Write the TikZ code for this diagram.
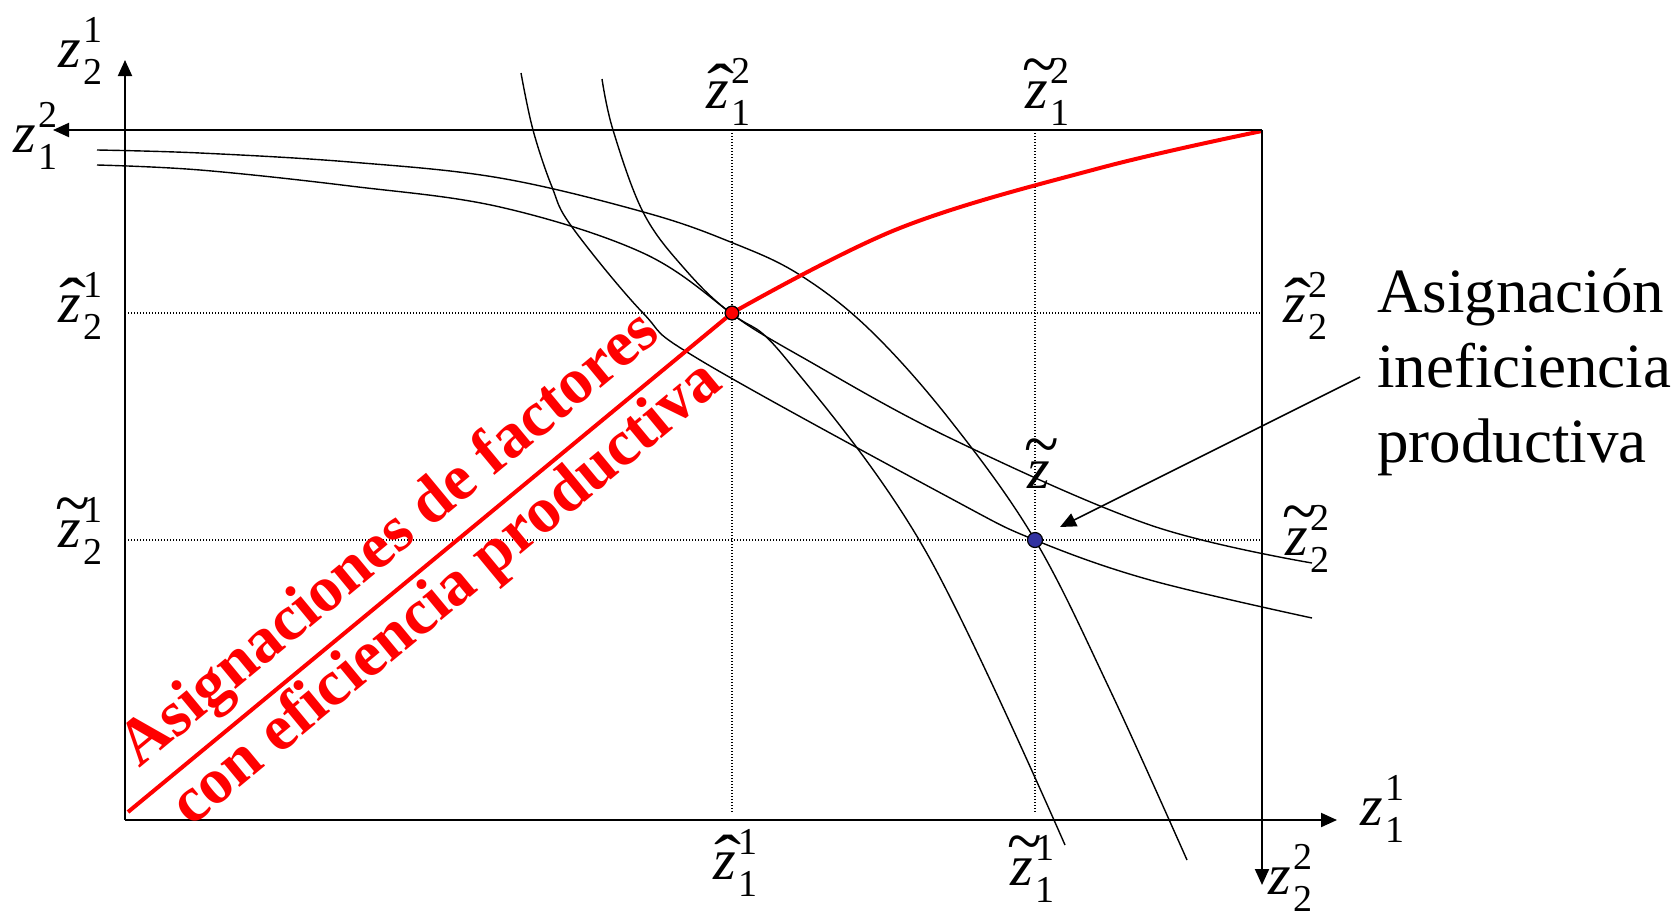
\documentclass[tikz,border=0pt]{standalone}
\usepackage{graphicx}
\usepackage{fontspec}
\setmainfont{Liberation Serif}
\usetikzlibrary{arrows.meta}
\newcommand\zfont{\fontsize{29}{29}\selectfont}
\newcommand\scrfont{\fontsize{19}{19}\selectfont}
\newcommand\zplain{{\itshape z}}
\newcommand\zhat{\ooalign{\itshape z\cr\hidewidth\kern0.12em\scalebox{1.4}[1.1]{ˆ}\hidewidth\cr}}
\newcommand\ztil{\ooalign{\itshape z\cr\hidewidth\kern0.1em\raisebox{0.36em}{\scalebox{1.1}[1.2]{\textasciitilde}}\hidewidth\cr}}
\newcommand\zlab[3]{\mbox{\zfont#1\kern0.05em\makebox[0pt][l]{\raisebox{0.42em}{\scrfont #3}}\raisebox{-0.3em}{\scrfont #2}}}
\begin{document}
\begin{tikzpicture}[x=0.5pt,y=-0.5pt,
  axis/.style={line width=1pt,-{Triangle[length=8pt,width=7pt]}},
  curve/.style={line width=0.7pt},
  dotline/.style={line width=0.6pt,dash pattern=on 0.6pt off 0.9pt},
  contract/.style={line width=2pt,red},
  lab/.style={inner sep=0pt,anchor=base west},
  txt/.style={inner sep=0pt,anchor=base west,font=\fontsize{31.5}{36}\selectfont},
  redtxt/.style={inner sep=0pt,anchor=base,text=red,font=\fontsize{32.5}{37}\selectfont\bfseries,rotate=39.6},
  ptnode/.style={circle,draw=black,line width=0.6pt,inner sep=0pt,minimum size=7pt}]
\fill[white] (0,0) rectangle (1679,916);
\useasboundingbox (0,0) rectangle (1679,916);
% key coordinates
\coordinate (O) at (125,820);
\coordinate (O2) at (1262,130);
\coordinate (yt) at (125,60);
\coordinate (xt) at (1337,820);
\coordinate (lt) at (53,130);
\coordinate (bt) at (1262,885);
% dotted guides
\coordinate (h1t) at (732,130); \coordinate (h1b) at (732,812);
\coordinate (t1t) at (1035,130); \coordinate (t1b) at (1035,812);
\coordinate (h2l) at (125,313); \coordinate (h2r) at (1262,313);
\coordinate (t2l) at (125,540); \coordinate (t2r) at (1262,540);
\draw[dotline] (h1t) -- (h1b);
\draw[dotline] (t1t) -- (t1b);
\draw[dotline] (h2l) -- (h2r);
\draw[dotline] (t2l) -- (t2r);
% isoquants
\draw[curve] plot[smooth,tension=0.6] coordinates {(97,150) (200,153) (350,162) (500,178) (647,213) (733,243) (800,275) (870,330) (950,420) (1035,540) (1110,690) (1187,860)};
\draw[curve] plot[smooth,tension=0.6] coordinates {(97,165) (200,170) (350,186) (500,207) (643,253) (732,314) (787,360) (925,550) (1065,845)};
\draw[curve] plot[smooth,tension=0.6] coordinates {(521,73) (533,130) (552,187) (572,227) (643,313) (700,360) (950,498) (1035,540) (1150,580) (1312,618)};
\draw[curve] plot[smooth,tension=0.6] coordinates {(602,79) (613,130) (643,212) (683,267) (732,314) (807,360) (950,438) (1150,525) (1312,563)};
% points
\node[ptnode,fill=red,minimum size=6.8pt] (ph) at (732,313) {};
\node[ptnode,fill={rgb,255:red,50;green,50;blue,160},minimum size=7.5pt] (pt) at (1035,540) {};
% contract curve
\coordinate (cs) at (128,812);
\draw[contract] (cs) -- (ph.center) plot[smooth,tension=0.6] coordinates {(732,313) (900,228) (1100,168) (1262,131)};
\node[ptnode,fill=red,minimum size=6.8pt] at (ph) {};
% axes and box
\draw[axis] (O) -- (yt);
\draw[axis] (O) -- (xt);
\draw[axis] (O2) -- (lt);
\draw[axis] (O2) -- (bt);
% axis labels
\node[lab] (l21) at (58,67) {\zlab{\zplain}{2}{1}};
\node[lab] (l12) at (13,152) {\zlab{\zplain}{1}{2}};
\node[lab] (l11) at (1360,825) {\zlab{\zplain}{1}{1}};
\node[lab] (l22) at (1268,894) {\zlab{\zplain}{2}{2}};
\node[lab] (h12) at (706,108) {\zlab{\zhat}{1}{2}};
\node[lab] (t12) at (1025,108) {\zlab{\ztil}{1}{2}};
\node[lab] (h21) at (58,322) {\zlab{\zhat}{2}{1}};
\node[lab] (t21) at (58,547) {\zlab{\ztil}{2}{1}};
\node[lab] (h22) at (1283,322) {\zlab{\zhat}{2}{2}};
\node[lab] (t22) at (1285,555) {\zlab{\ztil}{2}{2}};
\node[lab] (h11) at (713,879) {\zlab{\zhat}{1}{1}};
\node[lab] (t11) at (1010,885) {\zlab{\ztil}{1}{1}};
\node[lab] (tz) at (1027,488) {\zfont\ztil};
% annotation
\node[txt] (a1) at (1377,312) {Asignación};
\node[txt] (a2) at (1377,387) {ineficiencia};
\node[txt] (a3) at (1377,462) {productiva};
\coordinate (as) at (1360,377);
\coordinate (ae) at (1060,527);
\draw[line width=0.8pt,-{Triangle[length=8pt,width=7pt]}] (as) -- (ae);
% red text
\node[redtxt] (r1) at (401,553) {Asignaciones de factores};
\node[redtxt] (r2) at (458,607) {con eficiencia productiva};
\end{tikzpicture}
\end{document}
